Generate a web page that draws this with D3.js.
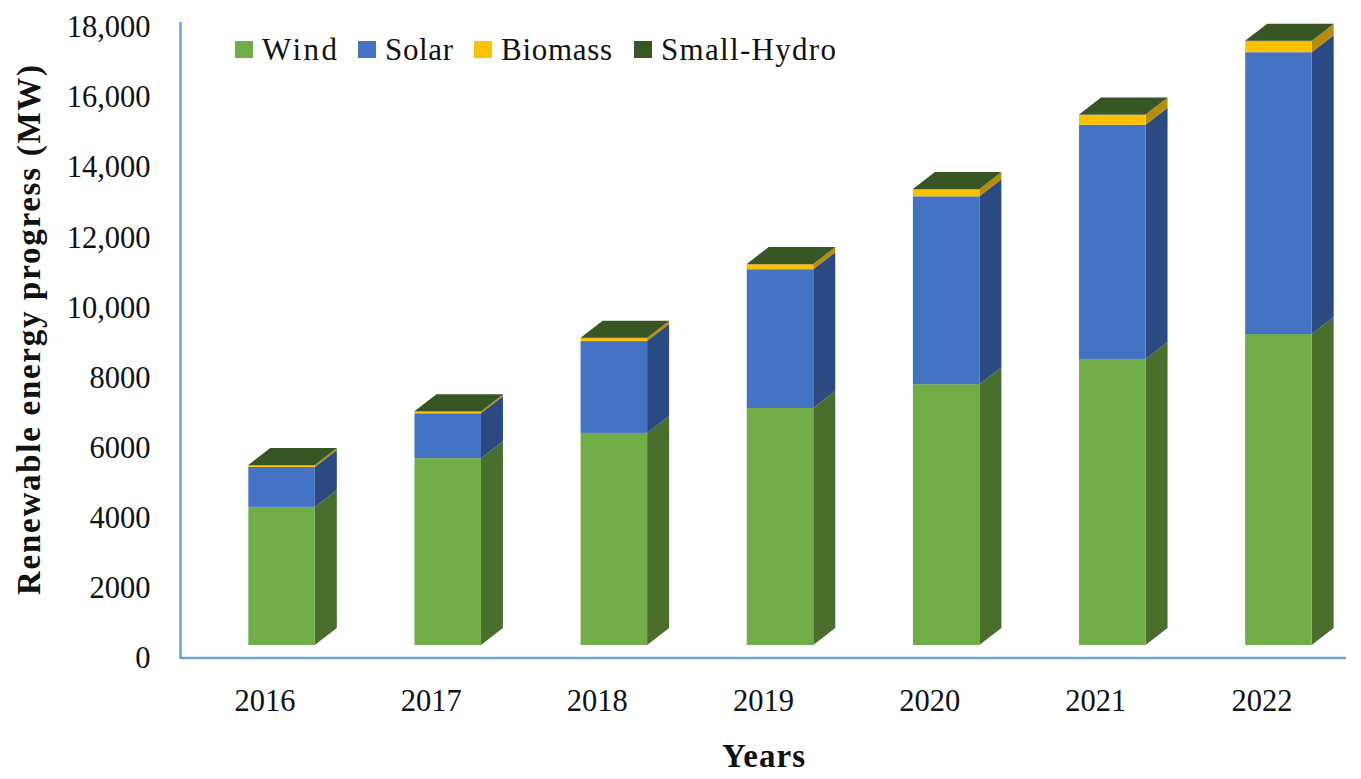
<!DOCTYPE html>
<html>
<head>
<meta charset="utf-8">
<script src="https://cdn.jsdelivr.net/npm/d3@7"></script>
<style>
  html, body { margin: 0; padding: 0; background: #fff; }
  text { font-family: "Liberation Serif", serif; fill: #111; }
</style>
</head>
<body>
<div id="chart"></div>
<script>
var years = ["2016", "2017", "2018", "2019", "2020", "2021", "2022"];
var wind = [3940, 5330, 6050, 6760, 7440, 8160, 8870];
var solar = [1140, 1280, 2620, 3960, 5360, 6680, 8040];
var biomass = [45, 45, 85, 140, 200, 285, 315];
var smallHydro = [10, 10, 10, 10, 10, 10, 10];
var seriesNames = ["Wind", "Solar", "Biomass", "Small-Hydro"];
var tickValues = [0, 2000, 4000, 6000, 8000, 10000, 12000, 14000, 16000, 18000];
var tickLabels = ["0", "2000", "4000", "6000", "8000", "10,000", "12,000", "14,000", "16,000", "18,000"];

var width = 1361, height = 779,
  axisLeft = 180.5, axisBottom = 658, axisTop = 22, axisRight = 1346,
  barWidth = 66.5, depthX = 22, depthY = 17, floorOffset = 13, barShift = 16.5,
  frontColors = ["#70ad47", "#4472c4", "#ffc000", "#385723"],
  sideColors = ["#4a6e2c", "#2c4a82", "#b88c05", "#2f4a1d"],
  topColor = "#375623", axisColor = "#6fa3d2";

var rows = years.map(function(y, i) {
  return { year: y, Wind: wind[i], Solar: solar[i], Biomass: biomass[i], "Small-Hydro": smallHydro[i] };
});

var x = d3.scaleBand().domain(years).range([axisLeft + 1.5, axisRight - 1]);
var y = d3.scaleLinear().domain([0, 18000]).range([axisBottom, 27]);

var svg = d3.select("#chart").append("svg")
  .attr("width", width)
  .attr("height", height)
  .style("display", "block");

// front face sits above the axis line, on the floor of the 3d box
var front = function(v) { return y(v) - floorOffset; };
var barLeft = function(yr) { return x(yr) + x.bandwidth() / 2 - barWidth / 2 + barShift; };
var pts = function(p) { return p.map(function(d) { return d.join(","); }).join(" "); };

var stacked = d3.stack().keys(seriesNames)(rows);

var layers = svg.selectAll(".layer")
  .data(stacked)
  .enter().append("g")
  .attr("class", "layer");

// side faces
layers.selectAll(".side")
  .data(function(s) { return s.map(function(d) { return { d: d, key: s.key, idx: s.index }; }); })
  .enter().append("polygon")
  .attr("class", "side")
  .attr("fill", function(d) { return sideColors[d.idx]; })
  .attr("points", function(d) {
    var r = barLeft(d.d.data.year) + barWidth;
    return pts([
      [r, front(d.d[0])], [r + depthX, front(d.d[0]) - depthY],
      [r + depthX, front(d.d[1]) - depthY], [r, front(d.d[1])]
    ]);
  });

// front faces
layers.selectAll(".front")
  .data(function(s) { return s.map(function(d) { return { d: d, idx: s.index }; }); })
  .enter().append("rect")
  .attr("class", "front")
  .attr("fill", function(d) { return frontColors[d.idx]; })
  .attr("x", function(d) { return barLeft(d.d.data.year); })
  .attr("y", function(d) { return front(d.d[1]); })
  .attr("width", barWidth)
  .attr("height", function(d) { return front(d.d[0]) - front(d.d[1]); });

// lid of each column
svg.selectAll(".lid")
  .data(stacked[stacked.length - 1])
  .enter().append("polygon")
  .attr("class", "lid")
  .attr("fill", topColor)
  .attr("points", function(d) {
    var l = barLeft(d.data.year), t = front(d[1]);
    return pts([
      [l, t], [l + barWidth, t],
      [l + barWidth + depthX, t - depthY], [l + depthX, t - depthY]
    ]);
  });

// axes
svg.append("line")
  .attr("x1", axisLeft).attr("x2", axisLeft)
  .attr("y1", axisTop).attr("y2", axisBottom + 1)
  .attr("stroke", axisColor).attr("stroke-width", 2.5);
svg.append("line")
  .attr("x1", axisLeft).attr("x2", axisRight)
  .attr("y1", axisBottom).attr("y2", axisBottom)
  .attr("stroke", axisColor).attr("stroke-width", 2.5);

var yAxis = d3.axisLeft(y)
  .tickValues(tickValues)
  .tickSize(0)
  .tickPadding(30)
  .tickFormat(function(d, i) { return tickLabels[i]; });

var gy = svg.append("g").attr("transform", "translate(" + axisLeft + ",0)").call(yAxis);
gy.select(".domain").remove();
gy.selectAll("text").style("font-size", "30.5px").attr("dy", "0.32em");

var xAxis = d3.axisBottom(x).tickSize(0).tickPadding(43);
var gx = svg.append("g").attr("transform", "translate(0," + axisBottom + ")").call(xAxis);
gx.select(".domain").remove();
gx.selectAll("text").style("font-size", "30.5px").attr("dy", "0.33em");

svg.append("text")
  .attr("x", 763.5).attr("y", 767)
  .attr("text-anchor", "middle")
  .attr("textLength", 83)
  .style("font-size", "33px").style("font-weight", "bold")
  .text("Years");

svg.append("text")
  .attr("transform", "translate(40,330) rotate(-90)")
  .attr("text-anchor", "middle")
  .attr("textLength", 530)
  .style("font-size", "33px").style("font-weight", "bold")
  .text("Renewable energy progress (MW)");

// legend
var legendX = d3.scaleOrdinal().domain(seriesNames).range([235, 358, 474, 634]);
var legendLen = d3.scaleOrdinal().domain(seriesNames).range([75, 68, 111, 175]);
var legend = svg.selectAll(".legend")
  .data(seriesNames)
  .enter().append("g")
  .attr("class", "legend");

legend.append("rect")
  .attr("x", function(d) { return legendX(d); })
  .attr("y", 41)
  .attr("width", 18)
  .attr("height", 17)
  .attr("fill", function(d, i) { return frontColors[i]; });

legend.append("text")
  .attr("x", function(d) { return legendX(d) + 27; })
  .attr("y", 60)
  .attr("textLength", function(d) { return legendLen(d); })
  .style("font-size", "31px")
  .text(function(d) { return d; });
</script>
</body>
</html>
